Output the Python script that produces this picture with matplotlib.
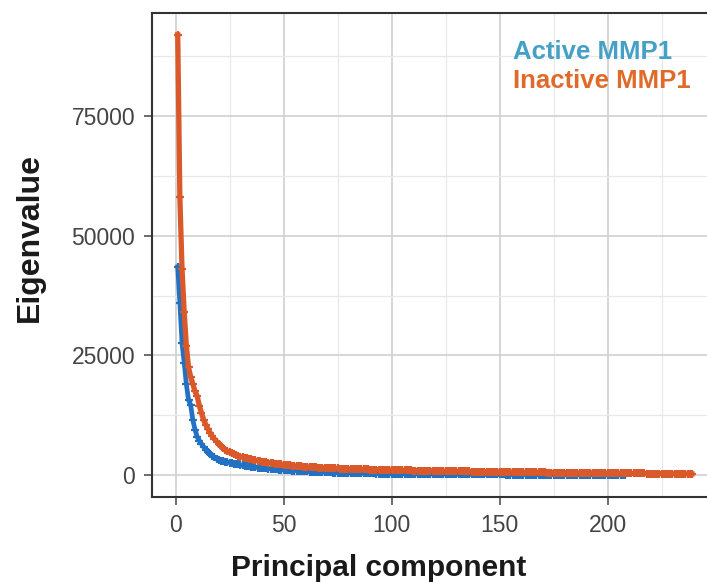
import matplotlib
matplotlib.use("Agg")
import matplotlib.pyplot as plt
from matplotlib.ticker import MultipleLocator

plt.rcParams['font.family'] = ['Liberation Sans', 'DejaVu Sans']

# eigenvalues (PC 1..n)
active_eig = [
    43500, 36000, 27500, 23500, 19000, 15700, 14600, 11500, 9500, 8000,
    7200, 6500, 5900, 5300, 4800, 4400, 4000, 3700, 3400, 3100,
    3000, 2900, 2800, 2700, 2600, 2500, 2400, 2300, 2200, 2100,
    2000, 1930, 1860, 1800, 1740, 1680, 1620, 1570, 1520, 1470,
    1420, 1380, 1340, 1300, 1260, 1220, 1180, 1140, 1100, 1060,
    1020, 990, 960, 930, 900, 870, 840, 810, 790, 770,
    750, 730, 710, 690, 670, 650, 630, 610, 590, 570,
    550, 535, 520, 505, 490, 475, 460, 450, 440, 430,
    420, 410, 400, 390, 380, 370, 360, 352, 344, 336,
    328, 320, 312, 305, 298, 291, 284, 278, 272, 266,
    260, 255, 250, 245, 240, 235, 230, 226, 222, 218,
    214, 210, 206, 202, 198, 194, 190, 187, 184, 181,
    178, 175, 172, 169, 166, 163, 160, 158, 156, 154,
    152, 150, 148, 146, 144, 142, 140, 138, 136, 134,
    132, 130, 128, 126, 124, 122, 120, 118, 116, 114,
    112, 110, 108, 106, 104, 102, 100, 99, 98, 97,
    96, 95, 94, 93, 92, 91, 90, 89, 88, 87,
    86, 85, 84, 83, 82, 81, 80, 79, 78, 77,
    76, 75, 74, 73, 72, 71, 70, 69, 68, 67,
    66, 65, 64, 63, 62, 61, 60, 59, 58, 57,
    56, 55, 54, 53, 52, 51, 50, 49,
]
inactive_eig = [
    92000, 58000, 43000, 34000, 27000, 22500, 20500, 19000, 17500, 16500,
    14500, 13000, 11500, 10500, 9600, 8800, 8100, 7500, 7000, 6500,
    6000, 5600, 5300, 5000, 4750, 4500, 4300, 4150, 4000, 3850,
    3700, 3580, 3460, 3350, 3250, 3150, 3060, 2980, 2900, 2820,
    2740, 2660, 2590, 2520, 2450, 2390, 2330, 2270, 2210, 2160,
    2110, 2060, 2010, 1970, 1930, 1890, 1850, 1810, 1770, 1740,
    1710, 1680, 1650, 1620, 1590, 1565, 1540, 1515, 1490, 1470,
    1450, 1430, 1410, 1390, 1370, 1350, 1335, 1320, 1305, 1290,
    1275, 1260, 1245, 1230, 1215, 1200, 1188, 1176, 1164, 1152,
    1140, 1128, 1116, 1104, 1092, 1080, 1070, 1060, 1050, 1040,
    1030, 1020, 1010, 1000, 990, 980, 971, 962, 953, 944,
    935, 926, 917, 908, 900, 892, 884, 876, 868, 860,
    852, 844, 836, 828, 820, 812, 805, 798, 791, 784,
    777, 770, 763, 756, 749, 742, 735, 728, 721, 714,
    707, 700, 693, 686, 680, 674, 668, 662, 656, 650,
    644, 638, 632, 626, 620, 614, 608, 602, 596, 590,
    584, 578, 572, 566, 560, 555, 550, 545, 540, 535,
    530, 525, 520, 515, 510, 505, 500, 495, 490, 485,
    480, 475, 470, 465, 460, 455, 450, 445, 440, 435,
    430, 425, 420, 415, 410, 405, 400, 396, 392, 388,
    384, 380, 376, 372, 368, 364, 360, 356, 352, 348,
    344, 340, 336, 332, 328, 324, 320, 316, 312, 308,
    304, 300, 296, 292, 288, 284, 280, 276, 272, 268,
    264, 260, 256, 252, 248, 244, 240, 236, 232,
]
active_pc = list(range(1, len(active_eig) + 1))
inactive_pc = list(range(1, len(inactive_eig) + 1))
x_ticks = [0, 50, 100, 150, 200]

blue = '#2271c2'
orange = '#d9592b'

fig = plt.figure(figsize=(7.07, 5.82), dpi=100)
ax = fig.add_axes([0.215, 0.146, 0.80, 0.832])

ax.plot(active_pc, active_eig, color=blue, lw=3.4, marker='+', ms=6, mew=1.6)
ax.plot(inactive_pc, inactive_eig, color=orange, lw=3.8, marker='+', ms=6, mew=1.6)

xmax = len(inactive_eig)
ymax = max(inactive_eig)
ax.set_xlim(1 - 0.05 * (xmax - 1), xmax + 0.05 * (xmax - 1))
ax.set_ylim(-0.05 * ymax, ymax * 1.05)

ax.set_xticks(x_ticks)
ax.xaxis.set_minor_locator(MultipleLocator(25))
ax.yaxis.set_major_locator(MultipleLocator(25000))
ax.yaxis.set_minor_locator(MultipleLocator(12500))
ax.grid(which='major', color='#d0d0d0', lw=1.2)
ax.grid(which='minor', color='#e8e8e8', lw=0.9)
ax.set_axisbelow(True)

ax.tick_params(which='major', length=6, width=1.1, color='#444444',
               labelsize=16.5, labelcolor='#444444', pad=6)
ax.tick_params(which='minor', length=0)
for s in ax.spines.values():
    s.set_color('#333333')
    s.set_linewidth(1.5)

ax.set_xlabel('Principal component', fontsize=21.5, fontweight='bold', color='#1a1a1a')
ax.xaxis.set_label_coords(0.40, -0.117)
ax.set_ylabel('Eigenvalue', fontsize=23, fontweight='bold', color='#1a1a1a')
ax.yaxis.set_label_coords(-0.19, 0.535)

fig.text(0.7256, 0.9107, 'Active MMP1', color='#45a0c6', fontsize=18.5,
         fontweight='bold', va='center', ha='left')
fig.text(0.7256, 0.8608, 'Inactive MMP1', color='#e06a2a', fontsize=18.5,
         fontweight='bold', va='center', ha='left')

fig.savefig('out.png', dpi=100)
